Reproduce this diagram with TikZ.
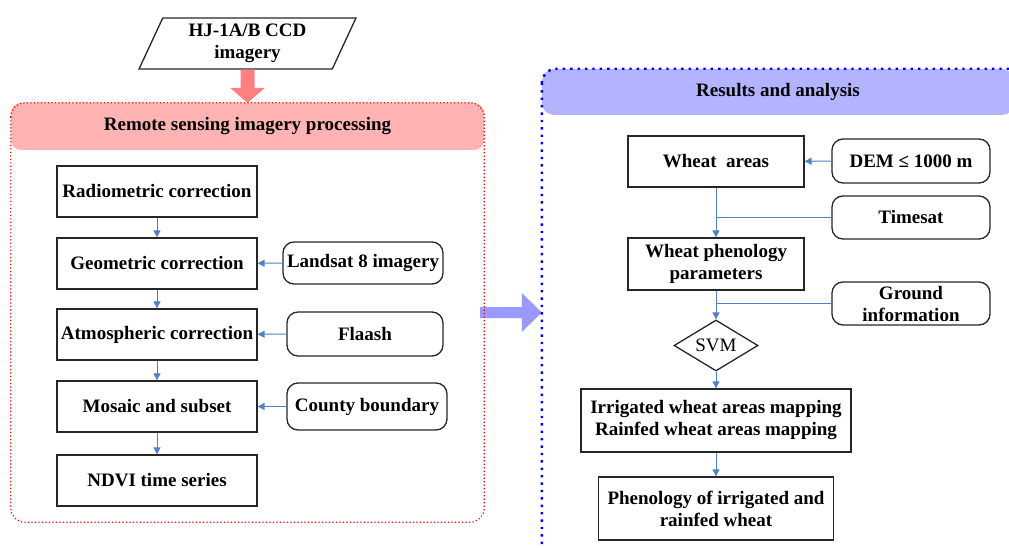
\documentclass[tikz,border=0pt]{standalone}
\usepackage{fontspec}
\setmainfont{Liberation Serif}
\usetikzlibrary{arrows.meta}
\usetikzlibrary{shapes.geometric}
\usetikzlibrary{calc}
\definecolor{linkblue}{RGB}{79,129,196}
\definecolor{pinkfill}{RGB}{255,179,179}
\definecolor{redfat}{RGB}{255,128,128}
\definecolor{lilacfill}{RGB}{179,179,255}
\definecolor{bluefat}{RGB}{153,153,255}

\begin{document}
\begin{tikzpicture}[x=1pt,y=-1pt,
    every node/.style={font=\bfseries\fontsize{19}{22}\selectfont, align=center, inner sep=0pt},
    stepbox/.style={draw=black!85, line width=1.3pt, rectangle},
    databox/.style={draw=black!85, line width=1.3pt, rectangle, rounded corners=11pt},
    link/.style={draw=linkblue, line width=1pt},
    arr/.style={link, -{Triangle[length=7pt,width=7pt]}}]
  \useasboundingbox (0,0) rectangle (1009,548);
  \clip (0,0) rectangle (1009,548);

  % input
  \node[draw=black!85, line width=1.3pt, trapezium, trapezium left angle=67, trapezium right angle=113,
        trapezium stretches=true, minimum width=217, minimum height=51] (hj) at (247.5,43.5) {HJ-1A/B CCD\\imagery};

  % panel headers
  \node[fill=pinkfill, rounded corners=10pt, minimum width=473, minimum height=47] (rptitle) at (247.5,126.5) {Remote sensing imagery processing};
  \node[fill=lilacfill, rounded corners=12pt, minimum width=472, minimum height=46] (ratitle) at (778,92) {Results and analysis};

  % fat arrows
  \fill[redfat] ($(hj.south)+(-7,0)$) -- ($(rptitle.north)+(-7,-15)$) -- ($(rptitle.north)+(-17.5,-15)$) -- (rptitle.north)
    -- ($(rptitle.north)+(17.5,-15)$) -- ($(rptitle.north)+(7,-15)$) -- ($(hj.south)+(7,0)$) -- cycle;

  \node[minimum width=473, minimum height=419] (rpframe) at (247.5,312.5) {};
  \node[minimum width=488, minimum height=501] (raframe) at (786,319.5) {};
  \coordinate (btip) at (rpframe.east -| raframe.west);
  \fill[bluefat] ($(rpframe.east)+(-4,-5.5)$) -- ($(btip)+(-20,-5.5)$) -- ($(btip)+(-20,-19.5)$) -- (btip)
    -- ($(btip)+(-20,19.5)$) -- ($(btip)+(-20,5.5)$) -- ($(rpframe.east)+(-4,5.5)$) -- cycle;

  % panel frames
  \draw[red, line width=1.2pt, dash pattern=on 1.2pt off 2.3pt, rounded corners=14pt]
    (rpframe.north west) rectangle (rpframe.south east);
  \draw[blue, line width=2.4pt, dash pattern=on 2.4pt off 5pt, rounded corners=14pt]
    (raframe.north west) rectangle (raframe.south east);

  % processing chain
  \node[stepbox, minimum width=200, minimum height=51] (radio) at (157,191.5) {Radiometric correction};
  \node[stepbox, minimum width=200, minimum height=51] (geo) at (157,263.5) {Geometric correction};
  \node[stepbox, minimum width=200, minimum height=51] (atmo) at (157,334.5) {Atmospheric correction};
  \node[stepbox, minimum width=200, minimum height=51] (mosaic) at (157,406.5) {Mosaic and subset};
  \node[stepbox, minimum width=200, minimum height=51] (ndvi) at (157,480.5) {NDVI time series};

  \node[databox, minimum width=160, minimum height=42] (landsat) at (363,263) {Landsat 8 imagery};
  \node[databox, minimum width=156, minimum height=44] (flaash) at (365,334) {Flaash};
  \node[databox, minimum width=160, minimum height=47] (county) at (367,406.5) {County boundary};

  \draw[arr] (radio) -- (geo);
  \draw[arr] (geo) -- (atmo);
  \draw[arr] (atmo) -- (mosaic);
  \draw[arr] (mosaic) -- (ndvi);
  \draw[arr] (landsat) -- (geo);
  \draw[arr] (flaash) -- (atmo);
  \draw[arr] (county) -- (mosaic);

  % results chain
  \node[stepbox, minimum width=176, minimum height=51] (wheat) at (716,161.5) {Wheat~ areas};
  \node[databox, minimum width=158, minimum height=44] (dem) at (911,161) {DEM ≤ 1000 m};
  \node[databox, minimum width=158, minimum height=43] (timesat) at (911,217.5) {Timesat};
  \node[stepbox, minimum width=176, minimum height=52] (pheno) at (716,264) {Wheat phenology\\parameters};
  \node[databox, minimum width=158, minimum height=43] (ground) at (911,303.5) {Ground\\information};
  \node[draw=black!85, line width=1.3pt, diamond, aspect=1.65, minimum width=84, minimum height=51,
        font=\fontsize{19}{22}\selectfont] (svm) at (716,345.5) {SVM};
  \node[stepbox, minimum width=270, minimum height=63] (irri) at (716,420.5) {Irrigated wheat areas mapping\\Rainfed wheat areas mapping};
  \node[stepbox, minimum width=235, minimum height=63] (phenomap) at (716,508.5) {Phenology of irrigated and\\rainfed wheat};

  \draw[arr] (dem) -- (wheat);
  \draw[arr] (wheat) -- (pheno);
  \draw[link] (timesat.west) -- (wheat.south |- timesat.west);
  \draw[arr] (pheno) -- (svm);
  \draw[link] (ground.west) -- (pheno.south |- ground.west);
  \draw[arr] (svm) -- (irri);
  \draw[arr] (irri) -- (phenomap);
\end{tikzpicture}
\end{document}
